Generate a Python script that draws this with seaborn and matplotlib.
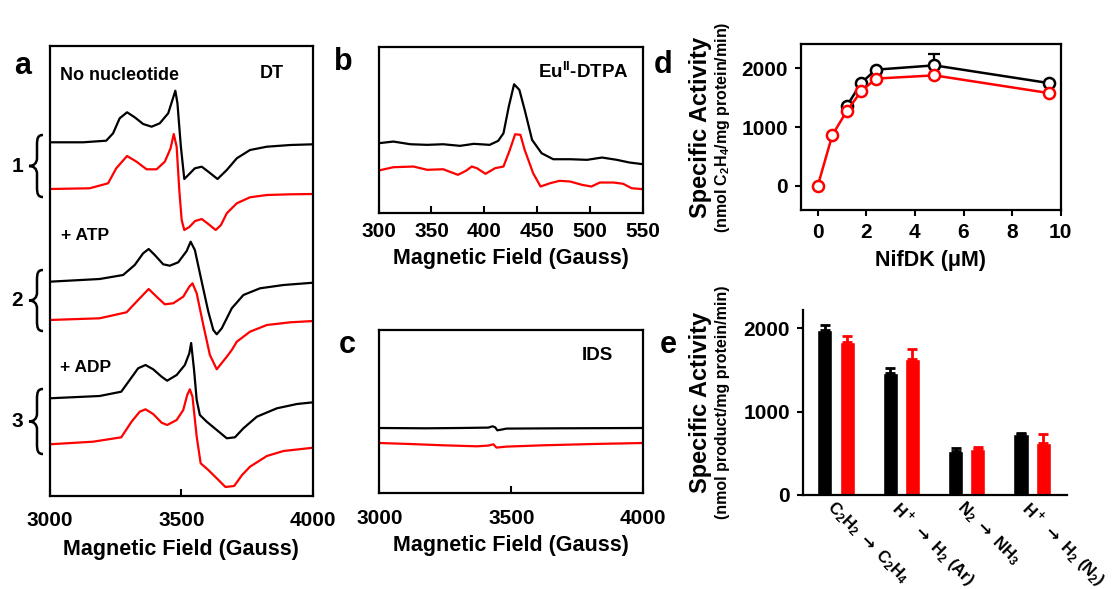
import numpy as np
import pandas as pd
import matplotlib
matplotlib.use("Agg")
import matplotlib.pyplot as plt
import seaborn as sns
from matplotlib.path import Path
from matplotlib.patches import PathPatch

# ---------------- data ----------------
# panel a: EPR spectra, DT-reduced (field in Gauss, signal in a.u. incl. stacking offset)
field_none_k = [3000, 3127, 3215, 3241, 3266, 3294, 3323, 3355, 3387, 3418, 3450, 3466, 3477, 3485,
                3498, 3511, 3526, 3551, 3577, 3602, 3637, 3672, 3710, 3760, 3824, 3913, 4000]
sig_none_k = [340.7, 340.7, 342.3, 349.7, 364.7, 370.7, 365.7, 359, 356.3, 359.7, 369.7, 383, 392.3, 379.7,
              336.3, 304, 308, 314.7, 316.3, 311.3, 304, 313, 324.7, 333, 336.3, 338, 338.7]
field_none_r = [3000, 3152, 3222, 3253, 3294, 3330, 3368, 3406, 3437, 3459, 3471, 3482, 3492, 3501,
                3511, 3530, 3552, 3577, 3602, 3630, 3650, 3672, 3710, 3760, 3824, 3913, 4000]
sig_none_r = [294, 294.7, 299.7, 314.7, 327, 321.3, 313.7, 313.7, 321.3, 334.7, 349, 336.3, 293, 263,
              253, 256, 262, 264, 259, 253, 258, 269.7, 279.7, 285.7, 288, 288.7, 289]

field_atp_k = [3000, 3190, 3279, 3323, 3355, 3376, 3399, 3431, 3456, 3488, 3520, 3535, 3551, 3577,
               3602, 3621, 3634, 3653, 3691, 3735, 3798, 3887, 4000]
sig_atp_k = [201.3, 204, 208, 218, 229.7, 234, 228, 218.7, 217.3, 220.7, 232, 241.3, 233, 201.3,
             171.3, 153, 148.7, 154.7, 174.7, 188, 194.7, 198, 200.3]
field_atp_r = [3000, 3190, 3292, 3336, 3376, 3406, 3437, 3469, 3507, 3530, 3542, 3558, 3583, 3608,
               3634, 3672, 3691, 3710, 3760, 3824, 3913, 4000]
sig_atp_r = [163, 164.7, 170.7, 183, 194, 186.3, 178.7, 179.7, 186.3, 196.3, 199.7, 189.7, 158, 128,
             113.7, 126.3, 133, 141.3, 151.3, 158, 160.7, 162]

field_adp_k = [3000, 3190, 3272, 3304, 3336, 3364, 3393, 3425, 3446, 3482, 3513, 3530, 3537, 3548,
               3558, 3570, 3596, 3634, 3672, 3703, 3735, 3786, 3862, 3938, 4000]
sig_adp_k = [84.7, 87, 91.3, 103, 114.7, 118, 113.7, 106.3, 102.3, 108, 118, 129.7, 140, 113,
             83, 68, 61.3, 53, 44.7, 45.7, 54.7, 66.3, 74.7, 79, 80.7]
field_adp_r = [3000, 3165, 3272, 3311, 3342, 3364, 3393, 3425, 3446, 3482, 3507, 3522, 3532, 3542,
               3558, 3573, 3602, 3634, 3667, 3700, 3730, 3760, 3824, 3887, 4000]
sig_adp_r = [38.7, 41.3, 45.7, 61.3, 71.3, 73.7, 69, 60.3, 58, 63, 73, 88, 93.7, 86.3,
             46.3, 19.7, 13, 4.7, -4, -3, 8, 16.3, 27, 32, 35.3]

# panel b: Eu(II)-DTPA reduced, low field region
field_eu_k = [300, 314, 330, 346, 361, 377, 390, 405, 413, 418, 423, 428, 433, 438, 445, 454,
              465, 481, 497, 511, 525, 537, 550]
sig_eu_k = [69.3, 71, 68.3, 67.7, 68.3, 66.7, 68.7, 67.7, 71.7, 79.3, 106, 128.3, 122.7, 102.7, 72.7, 59.3,
            53.3, 53.3, 52.7, 55, 52.7, 50, 48.3]
field_eu_r = [300, 314, 333, 346, 361, 375, 383, 388, 393, 401, 410, 418, 424, 429, 434, 438, 446, 453,
              462, 471, 481, 492, 501, 509, 522, 531, 539, 550]
sig_eu_r = [42, 45.3, 46, 42.7, 43.3, 37.7, 42, 46, 44.3, 38.7, 44.3, 46, 62.7, 78.3, 77.7, 62.7, 39.3, 26,
            29.3, 31.7, 31, 27.7, 26, 30, 30, 28.7, 24.3, 23.3]

# panel c: IDS oxidized
field_ids_k = [3000, 3179, 3306, 3413, 3429, 3439, 3447, 3463, 3482, 3684, 4000]
sig_ids_k = [65.3, 65, 65.3, 65.7, 67, 66, 63, 63.7, 64.7, 65, 65.3]
field_ids_r = [3000, 3116, 3242, 3369, 3413, 3432, 3444, 3482, 3621, 3811, 4000]
sig_ids_r = [50.3, 49.3, 48, 47, 47.7, 49, 45.7, 46.7, 48, 49.3, 50.3]

# panel d: C2H2 reduction vs NifDK concentration
nifdk_k = [1.2, 1.8, 2.4, 4.8, 9.5]
act_k = [1361, 1757, 1977, 2050, 1750]
err_k_at = 4.8
err_k = 190
nifdk_r = [0, 0.6, 1.2, 1.8, 2.4, 4.8, 9.5]
act_r = [0, 864, 1276, 1615, 1825, 1880, 1580]

# panel e: substrate reduction
ARROW = r"$\mathrm{\rightarrow}$"
reactions = ["C$_2$H$_2$ " + ARROW + " C$_2$H$_4$", "H$^+$ " + ARROW + " H$_2$ (Ar)",
             "N$_2$ " + ARROW + " NH$_3$", "H$^+$ " + ARROW + " H$_2$ (N$_2$)"]
bar_k = [1980, 1468, 532, 728]
bar_k_err = [60, 52, 36, 20]
bar_r = [1833, 1632, 548, 620]
bar_r_err = [75, 120, 24, 112]

BLACK = "#000000"
RED = "#ff0000"

# ---------------- style ----------------
sns.set_style("ticks")
plt.rcParams["font.family"] = ["Liberation Sans", "DejaVu Sans"]
plt.rcParams["font.weight"] = "bold"
plt.rcParams["axes.labelweight"] = "bold"
plt.rcParams["mathtext.fontset"] = "custom"
plt.rcParams["mathtext.rm"] = "DejaVu Sans:bold"
plt.rcParams["mathtext.default"] = "regular"
plt.rcParams["axes.linewidth"] = 1.6
plt.rcParams["axes.edgecolor"] = "black"
for key in ["text.color", "axes.labelcolor", "xtick.color", "ytick.color"]:
    plt.rcParams[key] = "black"

W, H = 1112, 589
fig = plt.figure(figsize=(W / 100, H / 100), dpi=100)


def px_axes(l, t, r, b):
    return fig.add_axes([l / W, 1 - b / H, (r - l) / W, (b - t) / H])


def px_text(x, y, s, **kw):
    fig.text(x / W, 1 - y / H, s, **kw)


def brace(x_tip, top, bottom):
    m = (top + bottom) / 2
    xb, xe = x_tip + 8, x_tip + 14
    verts = [(xe, top), (xb + 1, top), (xb, top + 3), (xb, top + 10),
             (xb, m - 8),
             (xb, m - 3), (xb - 3, m), (x_tip, m),
             (xb - 3, m), (xb, m + 3), (xb, m + 8),
             (xb, bottom - 10),
             (xb, bottom - 3), (xb + 1, bottom), (xe, bottom)]
    codes = [Path.MOVETO, Path.CURVE4, Path.CURVE4, Path.CURVE4, Path.LINETO,
             Path.CURVE4, Path.CURVE4, Path.CURVE4, Path.CURVE4, Path.CURVE4, Path.CURVE4,
             Path.LINETO, Path.CURVE4, Path.CURVE4, Path.CURVE4]
    verts = [(x / W, 1 - y / H) for x, y in verts]
    fig.add_artist(PathPatch(Path(verts, codes), transform=fig.transFigure,
                             fill=False, lw=1.8, color="black"))


def spectrum(ax, x, y, color):
    sns.lineplot(x=x, y=y, ax=ax, color=color, lw=1.6, estimator=None, sort=False)


# ---------------- panel a ----------------
ax_a = px_axes(49.5, 45.7, 313.3, 496)
spectrum(ax_a, field_none_k, sig_none_k, BLACK)
spectrum(ax_a, field_none_r, sig_none_r, RED)
spectrum(ax_a, field_atp_k, sig_atp_k, BLACK)
spectrum(ax_a, field_atp_r, sig_atp_r, RED)
spectrum(ax_a, field_adp_k, sig_adp_k, BLACK)
spectrum(ax_a, field_adp_r, sig_adp_r, RED)
ax_a.set_xlim(3000, 4000)
ax_a.set_ylim(-13, 437.3)
ax_a.set_xticks([3000, 3500, 4000])
ax_a.set_yticks([])
ax_a.tick_params(axis="x", direction="in", length=5, width=1.5, labelsize=15, pad=11)
ax_a.set_xlabel("Magnetic Field (Gauss)", fontsize=15.5, labelpad=6)
ax_a.set_ylabel("")

px_text(120, 76, "No nucleotide", fontsize=13, ha="center", va="center")
px_text(272, 74, "DT", fontsize=13, ha="center", va="center")
px_text(61, 235, "+ ATP", fontsize=12.5, ha="left", va="center")
px_text(60, 368, "+ ADP", fontsize=12.5, ha="left", va="center")
for lab, top, bot in [("1", 135, 197), ("2", 270, 331), ("3", 389, 454)]:
    brace(29, top, bot)
    px_text(17.5, (top + bot) / 2, lab, fontsize=15, ha="center", va="center")

# ---------------- panel b ----------------
ax_b = px_axes(378.5, 47.3, 643.3, 212.5)
spectrum(ax_b, field_eu_k, sig_eu_k, BLACK)
spectrum(ax_b, field_eu_r, sig_eu_r, RED)
ax_b.set_xlim(300, 550)
ax_b.set_ylim(0, 165.3)
ax_b.set_xticks([300, 350, 400, 450, 500, 550])
ax_b.set_yticks([])
ax_b.tick_params(axis="x", direction="in", length=5, width=1.5, labelsize=15, pad=7)
ax_b.set_xlabel("Magnetic Field (Gauss)", fontsize=15.5, labelpad=5)
ax_b.set_ylabel("")
px_text(583, 72, "Eu$^{II}$-DTPA", fontsize=13.5, ha="center", va="center")

# ---------------- panel c ----------------
ax_c = px_axes(379.3, 330, 643.3, 493.3)
spectrum(ax_c, field_ids_k, sig_ids_k, BLACK)
spectrum(ax_c, field_ids_r, sig_ids_r, RED)
ax_c.set_xlim(3000, 4000)
ax_c.set_ylim(0, 163.3)
ax_c.set_xticks([3000, 3500, 4000])
ax_c.set_yticks([])
ax_c.tick_params(axis="x", direction="in", length=5, width=1.5, labelsize=15, pad=11)
ax_c.set_xlabel("Magnetic Field (Gauss)", fontsize=15.5, labelpad=5)
ax_c.set_ylabel("")
px_text(597, 355, "IDS", fontsize=13.5, ha="center", va="center")

# ---------------- panel d ----------------
ax_d = px_axes(800.7, 44, 1060.7, 210)
ax_d.errorbar([err_k_at], [act_k[nifdk_k.index(err_k_at)]], yerr=[[0], [err_k]], fmt="none",
              ecolor=BLACK, elinewidth=1.6, capsize=4, capthick=1.6, zorder=1)
marker_kw = dict(marker="o", markersize=8, markerfacecolor="white", markeredgewidth=1.8,
                 lw=1.8, estimator=None, sort=False)
sns.lineplot(x=nifdk_k, y=act_k, ax=ax_d, color=BLACK, markeredgecolor=BLACK, **marker_kw)
sns.lineplot(x=nifdk_r, y=act_r, ax=ax_d, color=RED, markeredgecolor=RED, **marker_kw)
ax_d.set_xlim(-0.7, 10)
ax_d.set_ylim(-408, 2413)
ax_d.set_xticks([0, 2, 4, 6, 8, 10])
ax_d.set_yticks([0, 1000, 2000])
ax_d.tick_params(direction="out", length=4, width=1.5, labelsize=15, pad=5)
ax_d.set_xlabel("NifDK (\u03bcM)", fontsize=15.5, labelpad=6)
ax_d.set_ylabel("")

# ---------------- panel e ----------------
ax_e = px_axes(802.7, 310, 1066.7, 495)
df_e = pd.DataFrame({
    "reaction": reactions * 2,
    "sample": ["black"] * 4 + ["red"] * 4,
    "activity": bar_k + bar_r,
})
sns.barplot(data=df_e, x="reaction", y="activity", hue="sample", order=reactions,
            hue_order=["black", "red"], palette={"black": BLACK, "red": RED},
            width=0.68, gap=0.32, errorbar=None, legend=False, ax=ax_e, saturation=1)
for cont, errs, col in zip(ax_e.containers, [bar_k_err, bar_r_err], [BLACK, RED]):
    xs = [b.get_x() + b.get_width() / 2 for b in cont]
    hs = [b.get_height() for b in cont]
    ax_e.errorbar(xs, hs, yerr=[[0] * len(errs), errs], fmt="none", ecolor=col,
                  elinewidth=2, capsize=3.5, capthick=2)
ax_e.set_xlim(-0.51, 3.53)
ax_e.set_ylim(0, 2220)
ax_e.set_yticks([0, 1000, 2000])
sns.despine(ax=ax_e)
ax_e.tick_params(axis="y", direction="out", length=4, width=1.5, labelsize=15, pad=5)
ax_e.tick_params(axis="x", length=0, pad=2)
ax_e.set_xticks(range(len(reactions)))
ax_e.set_xticklabels(reactions, rotation=-45, ha="left", va="top", rotation_mode="anchor",
                     fontsize=12)
ax_e.set_xlabel("")
ax_e.set_ylabel("")

# y labels of d and e (two lines, different sizes)
for yc, unit in [(127, "(nmol C$_2$H$_4$/mg protein/min)"), (402.5, "(nmol product/mg protein/min)")]:
    px_text(700, yc, "Specific Activity", fontsize=17, rotation=90, ha="center", va="center")
    px_text(722, yc, unit, fontsize=11.5, rotation=90, ha="center", va="center")

# panel letters
for lab, x, y in [("a", 23, 66), ("b", 343, 62), ("c", 347, 345), ("d", 663, 65), ("e", 668, 345)]:
    px_text(x, y, lab, fontsize=22, ha="center", va="center")

fig.savefig("out.png", dpi=100)
